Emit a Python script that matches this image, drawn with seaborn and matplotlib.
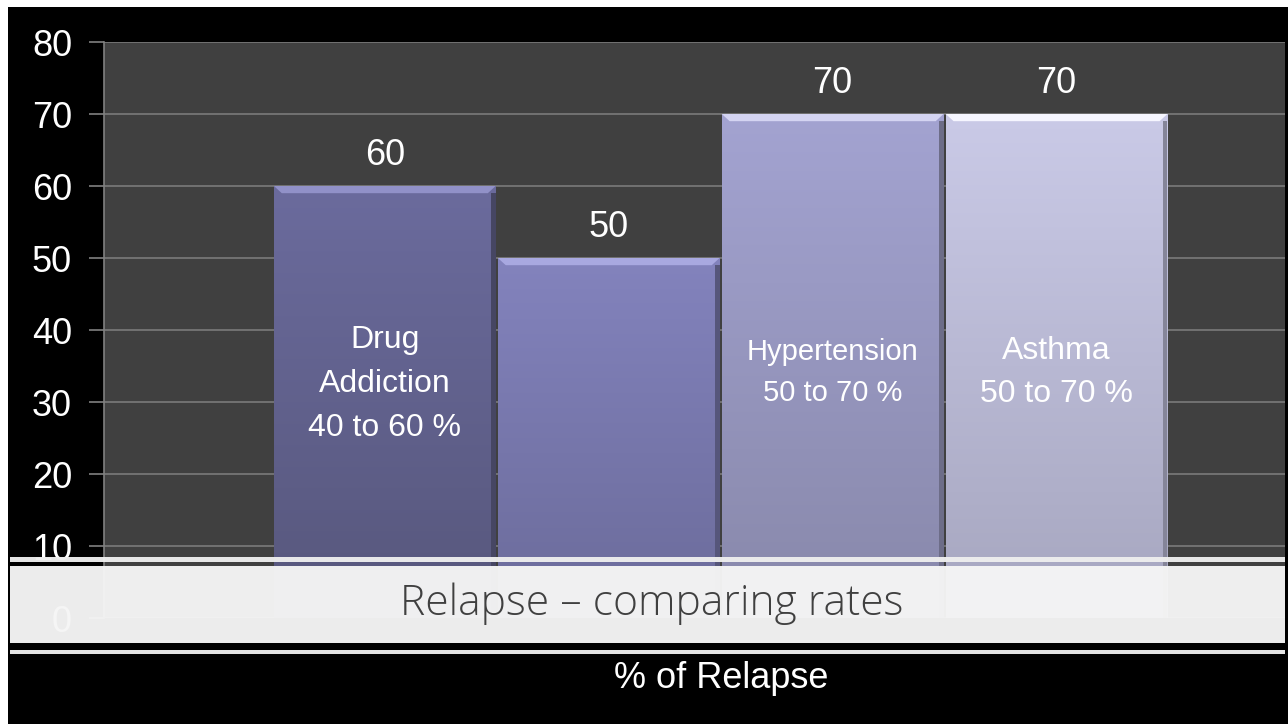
import numpy as np
import pandas as pd
import seaborn as sns
import matplotlib.pyplot as plt
from matplotlib.patches import Rectangle, Polygon
from matplotlib.colors import to_rgb

# Data
categories = ["Drug Addiction", "Other", "Hypertension", "Asthma"]
values = [60, 50, 70, 70]
inner_labels = ["Drug\nAddiction\n40 to 60 %", "", "Hypertension\n50 to 70 %", "Asthma\n50 to 70 %"]
yticks = [0, 10, 20, 30, 40, 50, 60, 70, 80]

top_colors = ["#6b6b9d", "#8383bd", "#a3a3d1", "#cacae7"]
bottom_colors = ["#57577c", "#6b6b9a", "#8888aa", "#a6a6bf"]
bevel_colors = ["#9191c8", "#a8a8e0", "#d4d4f2", "#f6f6ff"]

df = pd.DataFrame({"category": categories, "value": values})

sns.set_style("dark")
plt.rcParams["font.family"] = ["Liberation Sans", "DejaVu Sans"]

W, H = 1288, 724
fig = plt.figure(figsize=(W / 100, H / 100), dpi=100, facecolor="white")
# black slide background with thin white border top/left
fig.patches.append(Rectangle((8 / W, 0), 1, 1 - 7 / H, transform=fig.transFigure,
                             facecolor="black", edgecolor="none", zorder=-5))

ax = fig.add_axes([104 / W, 1 - 618 / H, (1285 - 104) / W, (618 - 42) / H])
ax.set_facecolor("#404040")

sns.barplot(data=df, x="category", y="value", hue="category", palette=top_colors,
            width=0.99, legend=False, ax=ax, zorder=2, saturation=1,
            linewidth=0)

ax.set_yticks(yticks)
ax.yaxis.grid(True, color="#7a7a7a", linewidth=1.2, zorder=1)
ax.xaxis.grid(False)
ax.set_axisbelow(True)
ax.tick_params(axis="y", colors="#808080", length=11, width=1.2, pad=12,
               labelsize=26, labelcolor="white", left=True)
ax.tick_params(axis="x", bottom=False, labelbottom=False)
for side in ["top", "right", "bottom"]:
    ax.spines[side].set_visible(False)
ax.spines["left"].set_color("#808080")
ax.spines["left"].set_linewidth(1.2)
ax.set_xlabel("")
ax.set_ylabel("")

# gradient fill + bevel highlight for each bar
for i, p in enumerate(ax.patches[:len(values)]):
    x0, y0 = p.get_x(), p.get_y()
    w, h = p.get_width(), p.get_height()
    c1, c2 = np.array(to_rgb(top_colors[i])), np.array(to_rgb(bottom_colors[i]))
    t = np.linspace(0, 1, 200)[:, None]
    grad = (c1 * (1 - t) + c2 * t)[:, None, :]
    im = ax.imshow(grad, extent=[x0, x0 + w, y0, y0 + h], aspect="auto",
                   zorder=3, origin="upper")
    im.set_clip_path(p)
    top = y0 + h
    bev = 1.0
    ax.add_patch(Polygon([(x0, top), (x0 + w, top), (x0 + w - 0.035, top - bev),
                          (x0 + 0.035, top - bev)], closed=True,
                         facecolor=bevel_colors[i], edgecolor="none", zorder=4))
    ax.add_patch(Rectangle((x0 + w - 0.02, y0), 0.02, h - bev,
                           facecolor=c2 * 0.8, edgecolor="none", zorder=4))

ax.set_xlim(-1.254, 4.02)
ax.set_ylim(0, 80)

# value labels and inner labels
for i, v in enumerate(values):
    ax.text(i, v + 4.3, str(v), ha="center", va="center", color="white",
            fontsize=26, zorder=5)
inner_y = [32.5, 0, 34.1, 34.1]
inner_size = [23, 23, 21, 23]
for i, lab in enumerate(inner_labels):
    if lab:
        ax.text(i, inner_y[i], lab, ha="center", va="center", color="white",
                fontsize=inner_size[i], linespacing=1.6, zorder=5)

# title banner overlay
fig.patches.append(Rectangle((10 / W, 1 - 562 / H), 1275 / W, 5 / H, transform=fig.transFigure,
                             facecolor="#eeeeee", edgecolor="none", alpha=0.97, zorder=10))
fig.patches.append(Rectangle((10 / W, 1 - 643 / H), 1275 / W, 77 / H, transform=fig.transFigure,
                             facecolor="#f5f5f5", edgecolor="none", alpha=0.97, zorder=10))
fig.patches.append(Rectangle((10 / W, 1 - 654 / H), 1275 / W, 4 / H, transform=fig.transFigure,
                             facecolor="#e4e4e4", edgecolor="none", zorder=10))
fig.text(652 / W, 1 - 604 / H, "Relapse \u2013 comparing rates", ha="center", va="center",
         color="#404040", fontsize=30.7, family=["Open Sans", "DejaVu Sans"], weight="light",
         zorder=11)

fig.text(721 / W, 1 - 678 / H, "% of Relapse", ha="center", va="center", color="white",
         fontsize=26)

plt.savefig("out.png", dpi=100, facecolor=fig.get_facecolor())
